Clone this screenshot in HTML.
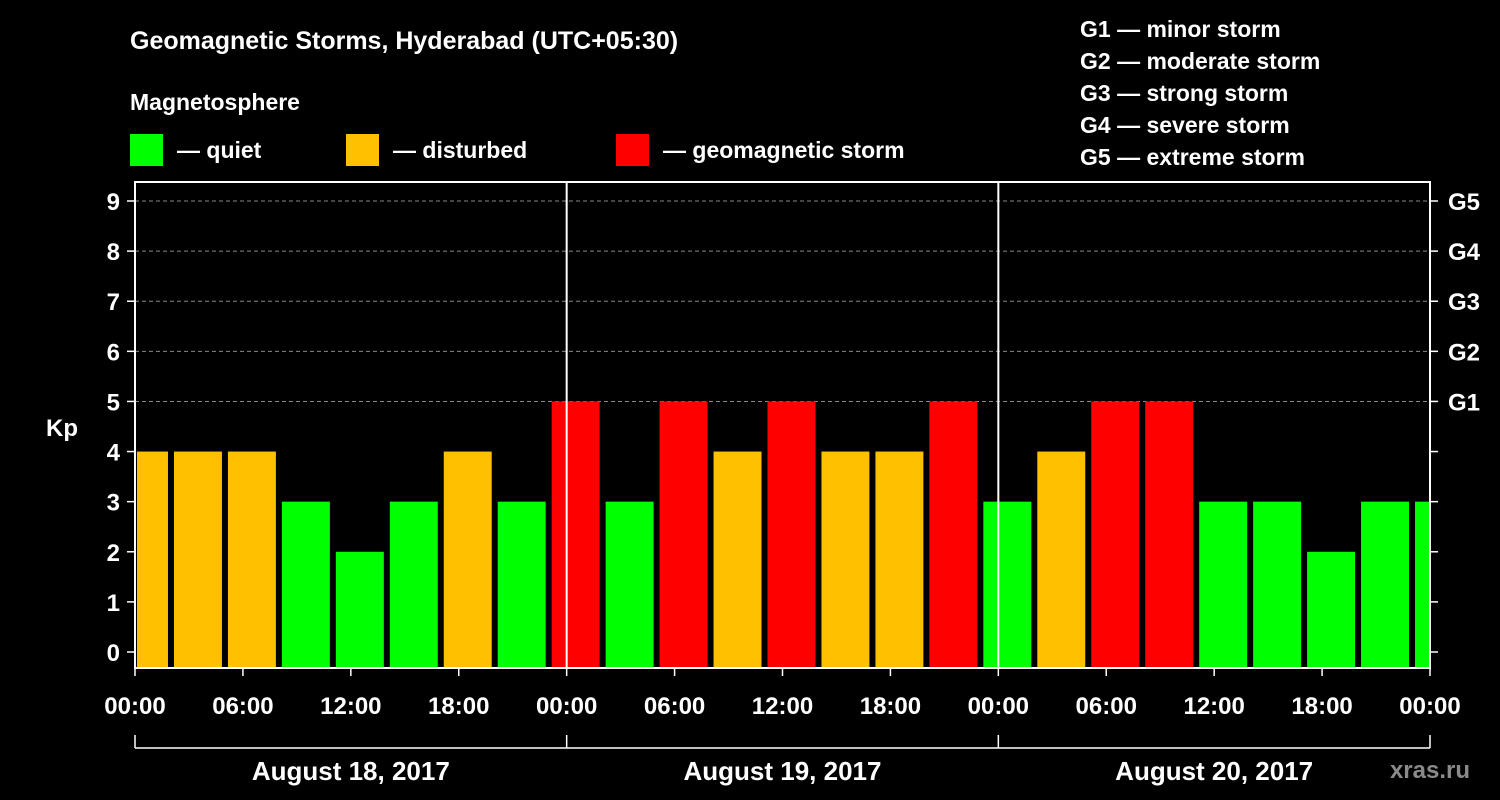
<!DOCTYPE html>
<html><head><meta charset="utf-8"><style>
html,body{margin:0;padding:0;background:#000;}
svg{display:block;}
text{font-family:"Liberation Sans",Arial,sans-serif;font-weight:bold;fill:#fff;}
</style></head><body>
<svg id="chart" width="1500" height="800" viewBox="0 0 1500 800">
<text x="130" y="49" font-size="25">Geomagnetic Storms, Hyderabad (UTC+05:30)</text>
<text x="130" y="110" font-size="23">Magnetosphere</text>
<g><rect x="130" y="134" width="33" height="32" fill="#00ff00"/><text x="177" y="158" font-size="23">— quiet</text></g>
<g><rect x="346" y="134" width="33" height="32" fill="#ffc000"/><text x="393" y="158" font-size="23">— disturbed</text></g>
<g><rect x="616" y="134" width="33" height="32" fill="#ff0000"/><text x="663" y="158" font-size="23">— geomagnetic storm</text></g>
<g font-size="23">
<text x="1080" y="37">G1 — minor storm</text>
<text x="1080" y="69">G2 — moderate storm</text>
<text x="1080" y="101">G3 — strong storm</text>
<text x="1080" y="133">G4 — severe storm</text>
<text x="1080" y="165">G5 — extreme storm</text>
</g>
<text x="62" y="436" font-size="24" text-anchor="middle">Kp</text>
<text x="1470" y="778" font-size="24" text-anchor="end" fill="#888" style="fill:#8a8a8a">xras.ru</text>
<g id="plot"></g>
</svg>
<script>
const kpValues = [4,4,4,3,2,3,4,3,5,3,5,4,5,4,4,5,3,4,5,5,3,3,2,3,3];
const yTicks = [0,1,2,3,4,5,6,7,8,9];
const gLabels = ["G1","G2","G3","G4","G5"];
const xTickLabels = ["00:00","06:00","12:00","18:00","00:00","06:00","12:00","18:00","00:00","06:00","12:00","18:00","00:00"];
const dayLabels = ["August 18, 2017","August 19, 2017","August 20, 2017"];
const firstBarStartHour = -1;
const barHours = 3;

const L=135,R=1430,T=182,B=668;
const totalHours=72;
const x=h=>L+(R-L)*h/totalHours;
const y=v=>652-v*(652-201)/9;
const NS="http://www.w3.org/2000/svg";
const g=document.getElementById('plot');
function mk(tag,attrs,parent){const e=document.createElementNS(NS,tag);for(const k in attrs)e.setAttribute(k,attrs[k]);(parent||g).appendChild(e);return e;}
function color(v){return v>=5?"#ff0000":(v>=4?"#ffc000":"#00ff00");}

// gridlines
yTicks.forEach(v=>{
  if(v>=5){const l=mk('line',{x1:L,x2:R,y1:y(v),y2:y(v),stroke:'#888','stroke-width':1,'stroke-dasharray':'4,3'});
  
  }
});
// bars
kpValues.forEach((v,i)=>{
  const h0=firstBarStartHour+i*barHours, h1=h0+barHours;
  let x0=x(h0)+3, x1=x(h1)-3;
  x0=Math.max(x0,L+2); x1=Math.min(x1,R);
  if(x1<=x0)return;
  const r=mk('rect',{x:x0,y:y(v),width:x1-x0,height:T+(B-T)-y(v),fill:color(v)});
  
  
});
// day separators
[24,48].forEach(h=>{const l=mk('line',{x1:x(h),x2:x(h),y1:T,y2:B,stroke:'#fff','stroke-width':2});

});
// border
const bd=mk('rect',{x:L,y:T,width:R-L,height:B-T,fill:'none',stroke:'#fff','stroke-width':2});


// y ticks
yTicks.forEach(v=>{
  mk('line',{x1:L-8,x2:L,y1:y(v),y2:y(v),stroke:'#fff','stroke-width':1.5});
  mk('line',{x1:R,x2:R+8,y1:y(v),y2:y(v),stroke:'#fff','stroke-width':1.5});
  const t=mk('text',{x:L-15,y:y(v)+9,'font-size':24,'text-anchor':'end'});t.textContent=v;
  
  
});
gLabels.forEach((s,i)=>{
  const t=mk('text',{x:1448,y:y(5+i)+9,'font-size':24});t.textContent=s;
  
  
});
// x ticks
xTickLabels.forEach((s,i)=>{
  const xx=x(i*6);
  mk('line',{x1:xx,x2:xx,y1:B,y2:B+8,stroke:'#fff','stroke-width':1.5});
  const t=mk('text',{x:xx,y:714,'font-size':24,'text-anchor':'middle'});t.textContent=s;
  
  
});
// day brackets
const br=mk('line',{x1:L,x2:R,y1:748,y2:748,stroke:'#fff','stroke-width':1.5});


[0,24,48,72].forEach(h=>mk('line',{x1:x(h),x2:x(h),y1:735,y2:748,stroke:'#fff','stroke-width':1.5}));
dayLabels.forEach((s,i)=>{
  const t=mk('text',{x:x(i*24+12),y:780,'font-size':26,'text-anchor':'middle'});t.textContent=s;
  
  
});
</script>
</body></html>
